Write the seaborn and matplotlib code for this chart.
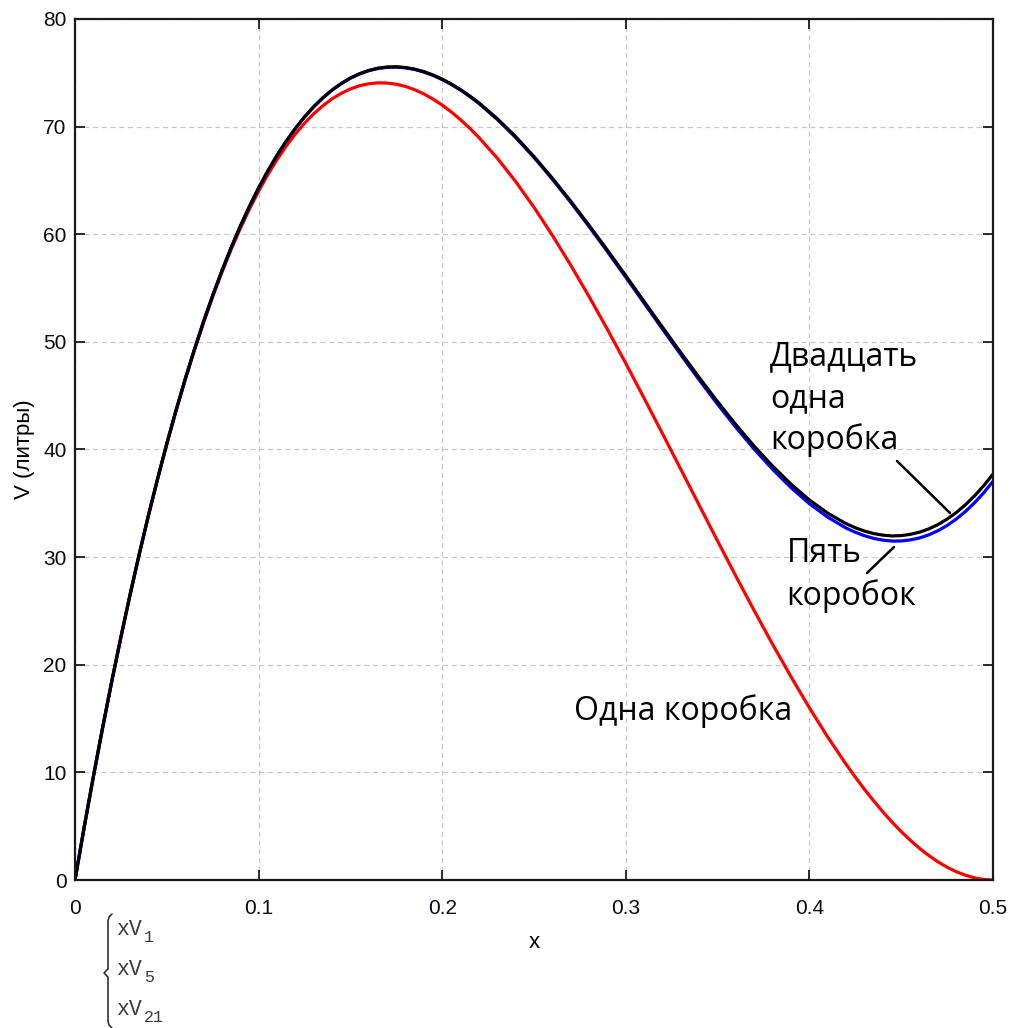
import numpy as np
import pandas as pd
import matplotlib
matplotlib.use("Agg")
import matplotlib.pyplot as plt
import seaborn as sns
from matplotlib.lines import Line2D

# ---- data ----
x_vals = [0.00, 0.01, 0.02, 0.03, 0.04, 0.05, 0.06, 0.07, 0.08, 0.09,
          0.10, 0.11, 0.12, 0.13, 0.14, 0.15, 0.16, 0.17, 0.18, 0.19,
          0.20, 0.21, 0.22, 0.23, 0.24, 0.25, 0.26, 0.27, 0.28, 0.29,
          0.30, 0.31, 0.32, 0.33, 0.34, 0.35, 0.36, 0.37, 0.38, 0.39,
          0.40, 0.41, 0.42, 0.43, 0.44, 0.45, 0.46, 0.47, 0.48, 0.49, 0.50]

v_one = [0.00, 9.60, 18.43, 26.51, 33.86, 40.50, 46.46, 51.77, 56.45, 60.52,
         64.00, 66.92, 69.31, 71.19, 72.58, 73.50, 73.98, 74.05, 73.73, 73.04,
         72.00, 70.64, 68.99, 67.07, 64.90, 62.50, 59.90, 57.13, 54.21, 51.16,
         48.00, 44.76, 41.47, 38.15, 34.82, 31.50, 28.22, 25.01, 21.89, 18.88,
         16.00, 13.28, 10.75, 8.43, 6.34, 4.50, 2.94, 1.69, 0.77, 0.20, 0.00]

v_five = [0.00, 9.60, 18.43, 26.52, 33.88, 40.54, 46.53, 51.87, 56.60, 60.73,
          64.30, 67.32, 69.82, 71.84, 73.39, 74.50, 75.20, 75.51, 75.46, 75.07,
          74.37, 73.39, 72.15, 70.67, 68.99, 67.13, 65.11, 62.96, 60.71, 58.38,
          56.00, 53.59, 51.18, 48.80, 46.46, 44.20, 42.05, 40.02, 38.15, 36.45,
          34.96, 33.71, 32.70, 31.99, 31.58, 31.50, 31.78, 32.45, 33.54, 35.06, 37.04]

v_twentyone = [0.00, 9.60, 18.43, 26.52, 33.88, 40.54, 46.53, 51.88, 56.60, 60.74,
               64.30, 67.33, 69.83, 71.85, 73.40, 74.52, 75.22, 75.54, 75.49, 75.11,
               74.41, 73.44, 72.21, 70.74, 69.07, 67.22, 65.21, 63.07, 60.83, 58.52,
               56.15, 53.75, 51.36, 48.99, 46.68, 44.44, 42.30, 40.30, 38.45, 36.78,
               35.31, 34.08, 33.11, 32.42, 32.04, 32.00, 32.32, 33.02, 34.14, 35.70, 37.72]

# extra readings where the curves bend most (rise, peak, and dip)
x_extra = [0.005, 0.015, 0.025, 0.035, 0.045, 0.055, 0.065, 0.075, 0.085, 0.095,
           0.105, 0.115, 0.125, 0.135, 0.145, 0.155, 0.165, 0.175, 0.185, 0.195,
           0.205, 0.215,
           0.425, 0.435, 0.445, 0.455, 0.465, 0.475, 0.485, 0.495]

v_one_extra = [4.90, 14.11, 22.56, 30.27, 37.26, 43.57, 49.20, 54.19, 58.56, 62.33,
               65.53, 68.18, 70.31, 71.94, 73.09, 73.80, 74.07, 73.94, 73.43, 72.56,
               71.36, 69.85,
               9.56, 7.35, 5.38, 3.69, 2.28, 1.19, 0.44, 0.05]

v_five_extra = [4.90, 14.11, 22.57, 30.28, 37.29, 43.62, 49.28, 54.31, 58.74, 62.58,
                65.87, 68.63, 70.89, 72.67, 73.99, 74.90, 75.40, 75.53, 75.31, 74.76,
                73.91, 72.80,
                32.31, 31.74, 31.49, 31.60, 32.07, 32.94, 34.24, 35.99]

v_twentyone_extra = [4.90, 14.11, 22.57, 30.28, 37.29, 43.62, 49.28, 54.32, 58.74, 62.59,
                     65.88, 68.64, 70.90, 72.68, 74.01, 74.92, 75.43, 75.56, 75.34, 74.80,
                     73.96, 72.85,
                     32.73, 32.19, 31.97, 32.12, 32.62, 33.53, 34.87, 36.65]

series_names = ["xV1", "xV5", "xV21"]
series_colors = ["#ff0000", "#0000ff", "#000000"]
x_ticks = [0, 0.1, 0.2, 0.3, 0.4, 0.5]
x_ticklabels = ["0", "0.1", "0.2", "0.3", "0.4", "0.5"]
y_ticks = [0, 10, 20, 30, 40, 50, 60, 70, 80]

frames = []
for name, base, extra in zip(series_names,
                             [v_one, v_five, v_twentyone],
                             [v_one_extra, v_five_extra, v_twentyone_extra]):
    frames.append(pd.DataFrame({"x": x_vals + x_extra, "V": base + extra,
                                "series": name}))
df = pd.concat(frames, ignore_index=True).sort_values(["series", "x"])

sns.set_theme(style="white")
plt.rcParams["font.family"] = ["Liberation Sans", "DejaVu Sans"]

W, H = 1013, 1028
fig = plt.figure(figsize=(W / 100, H / 100), dpi=100)
ax = fig.add_axes([75 / W, 1 - 880 / H, (993 - 75) / W, (880 - 19) / H])

sns.lineplot(data=df, x="x", y="V", hue="series", hue_order=series_names,
             palette=series_colors, linewidth=2.3, ax=ax, legend=False,
             sort=True, estimator=None)

ax.set_xlim(0, 0.5)
ax.set_ylim(0, 80)
ax.set_xticks(x_ticks)
ax.set_xticklabels(x_ticklabels)
ax.set_yticks(y_ticks)
ax.grid(True, color="#c8c8c8", linestyle=(0, (4, 3)), linewidth=0.9)
for s in ax.spines.values():
    s.set_visible(True)
    s.set_color("#1a1a1a")
    s.set_linewidth(1.6)
ax.tick_params(axis="both", direction="in", length=7, width=1.3, color="#1a1a1a",
               labelsize=15, labelcolor="#0a0a14", top=True, right=True,
               bottom=True, left=True)
ax.tick_params(axis="x", pad=14)
ax.tick_params(axis="y", pad=6)

ax.set_xlabel("x", fontsize=16, labelpad=10, color="black")
ax.set_ylabel("V (литры)", fontsize=16, labelpad=6, color="black")

# annotations
afont = ["Open Sans", "DejaVu Sans"]
def fx(px): return px / W
def fy(py): return 1 - py / H

for txt, px, py in [("Двадцать", 770, 365), ("одна", 770, 407), ("коробка", 770, 449),
                    ("Пять", 787, 562), ("коробок", 786, 605),
                    ("Одна коробка", 574, 720)]:
    fig.text(fx(px), fy(py), txt, family=afont, fontsize=23, va="baseline",
             ha="left", color="black")
fig.add_artist(Line2D([fx(897), fx(950)], [fy(461), fy(513)], color="black", lw=1.8))
fig.add_artist(Line2D([fx(894), fx(867)], [fy(547), fy(573)], color="black", lw=1.8))

# Mathcad-style legend with brace
bx = [112, 109, 108, 108, 104, 108, 108, 109, 112]
by = [914, 917, 921, 969, 973, 977, 1021, 1025, 1028]
fig.add_artist(Line2D([fx(v) for v in bx], [fy(v) for v in by], color="#222222", lw=1.1))
mono = ["Liberation Mono", "DejaVu Sans Mono"]
rows = [(935, "1"), (975, "5"), (1015, "21")]
for (py, sub) in rows:
    fig.text(fx(116), fy(py), "xV", family=mono, fontsize=15.5, color="#3a3a3a",
             va="baseline", ha="left")
    fig.text(fx(144), fy(py + 7), sub, family=mono, fontsize=12, color="#3a3a3a",
             va="baseline", ha="left")

fig.savefig("out.png", dpi=100)
